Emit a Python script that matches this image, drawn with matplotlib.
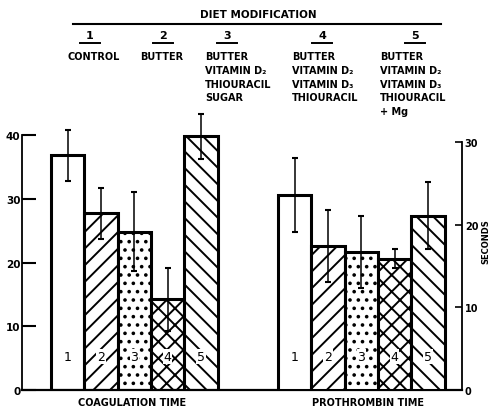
import matplotlib
matplotlib.use("Agg")
import matplotlib.pyplot as plt
from matplotlib.lines import Line2D

# data
diets = ["1", "2", "3", "4", "5"]
coag_time = [36.8, 27.7, 24.8, 14.2, 39.8]
coag_err = [4.0, 4.0, 6.2, 5.0, 3.5]
pro_time = [23.6, 17.4, 16.7, 15.9, 21.1]
pro_err = [4.5, 4.4, 4.4, 1.2, 4.1]
hatches = ["", "//", "..", "xx", "\\\\"]

diet_text = [
    ["CONTROL"],
    ["BUTTER"],
    ["BUTTER", "VITAMIN D₂", "THIOURACIL", "SUGAR"],
    ["BUTTER", "VITAMIN D₂", "VITAMIN D₃", "THIOURACIL"],
    ["BUTTER", "VITAMIN D₂", "VITAMIN D₃", "THIOURACIL", "+ Mg"],
]

plt.rcParams["hatch.linewidth"] = 1.4
W, H = 494, 410

fig = plt.figure(figsize=(W / 100, H / 100), dpi=100)
ax = fig.add_axes([22 / W, 1 - 391 / H, 440 / W, 281 / H])
ax2 = ax.twinx()

x1 = [0, 1, 2, 3, 4]
x2 = [6.82, 7.82, 8.82, 9.82, 10.82]

for i in range(5):
    ax.bar(x1[i], coag_time[i], width=1, color="white", edgecolor="black",
           linewidth=2.2, hatch=hatches[i], zorder=2)
    ax2.bar(x2[i], pro_time[i], width=1, color="white", edgecolor="black",
            linewidth=2.2, hatch=hatches[i], zorder=2)
    ax.text(x1[i], 0.12, diets[i], transform=ax.get_xaxis_transform(),
            ha="center", va="center", fontsize=9, zorder=4,
            bbox=dict(facecolor="white", edgecolor="none", pad=0.5))
    ax2.text(x2[i], 0.12, diets[i], transform=ax2.get_xaxis_transform(),
             ha="center", va="center", fontsize=9, zorder=4,
             bbox=dict(facecolor="white", edgecolor="none", pad=0.5))

ax.errorbar(x1, coag_time, yerr=coag_err, fmt="none", ecolor="black",
            elinewidth=1.1, capsize=2.5, capthick=1.5, zorder=3)
ax2.errorbar(x2, pro_time, yerr=pro_err, fmt="none", ecolor="black",
             elinewidth=1.1, capsize=2.5, capthick=1.5, zorder=3)

ax.set_xlim(-1.37, 11.84)
ax.set_ylim(0, 44.08)
ax2.set_ylim(0, 33.98)

for s in ["top", "right"]:
    ax.spines[s].set_visible(False)
for s in ["top", "left", "bottom"]:
    ax2.spines[s].set_visible(False)
ax.spines["left"].set_bounds(0, 40)
ax.spines["left"].set_linewidth(1.3)
ax.spines["bottom"].set_linewidth(1.6)
ax2.spines["right"].set_bounds(0, 30)
ax2.spines["right"].set_linewidth(1.3)

ax.set_xticks([])
ax.set_yticks([0, 10, 20, 30, 40])
ax.tick_params(axis="y", direction="in", length=10, width=1.5, pad=1,
               labelsize=7.5)
ax2.set_yticks([0, 10, 20, 30])
ax2.tick_params(axis="y", direction="in", length=5, width=1.2, pad=2,
                labelsize=7)
for lab in ax.get_yticklabels() + ax2.get_yticklabels():
    lab.set_fontweight("bold")

fig.text(486 / W, 1 - 242 / H, "SECONDS", rotation=90, ha="center",
         va="center", fontsize=6, fontweight="bold")
fig.text(132 / W, 1 - 403 / H, "COAGULATION TIME", ha="center",
         va="center", fontsize=7, fontweight="bold")
fig.text(368 / W, 1 - 403 / H, "PROTHROMBIN TIME", ha="center",
         va="center", fontsize=7, fontweight="bold")

# header
fig.text(258 / W, 1 - 15 / H, "DIET MODIFICATION", ha="center",
         va="center", fontsize=7.5, fontweight="bold")
fig.add_artist(Line2D([73 / W, 441 / W], [1 - 25 / H, 1 - 25 / H],
                      color="black", linewidth=1.5))

num_x = [90, 163, 227, 322, 415]
text_x = [68, 140, 205, 292, 380]
for i in range(5):
    fig.text(num_x[i] / W, 1 - 36 / H, diets[i], ha="center", va="center",
             fontsize=8, fontweight="bold")
    fig.add_artist(Line2D([(num_x[i] - 10) / W, (num_x[i] + 10) / W],
                          [1 - 44 / H, 1 - 44 / H], color="black",
                          linewidth=1.4))
    for j, line in enumerate(diet_text[i]):
        fig.text(text_x[i] / W, 1 - (57 + 13.8 * j) / H, line, ha="left",
                 va="center", fontsize=7, fontweight="bold")

plt.savefig("out.png", dpi=100)
